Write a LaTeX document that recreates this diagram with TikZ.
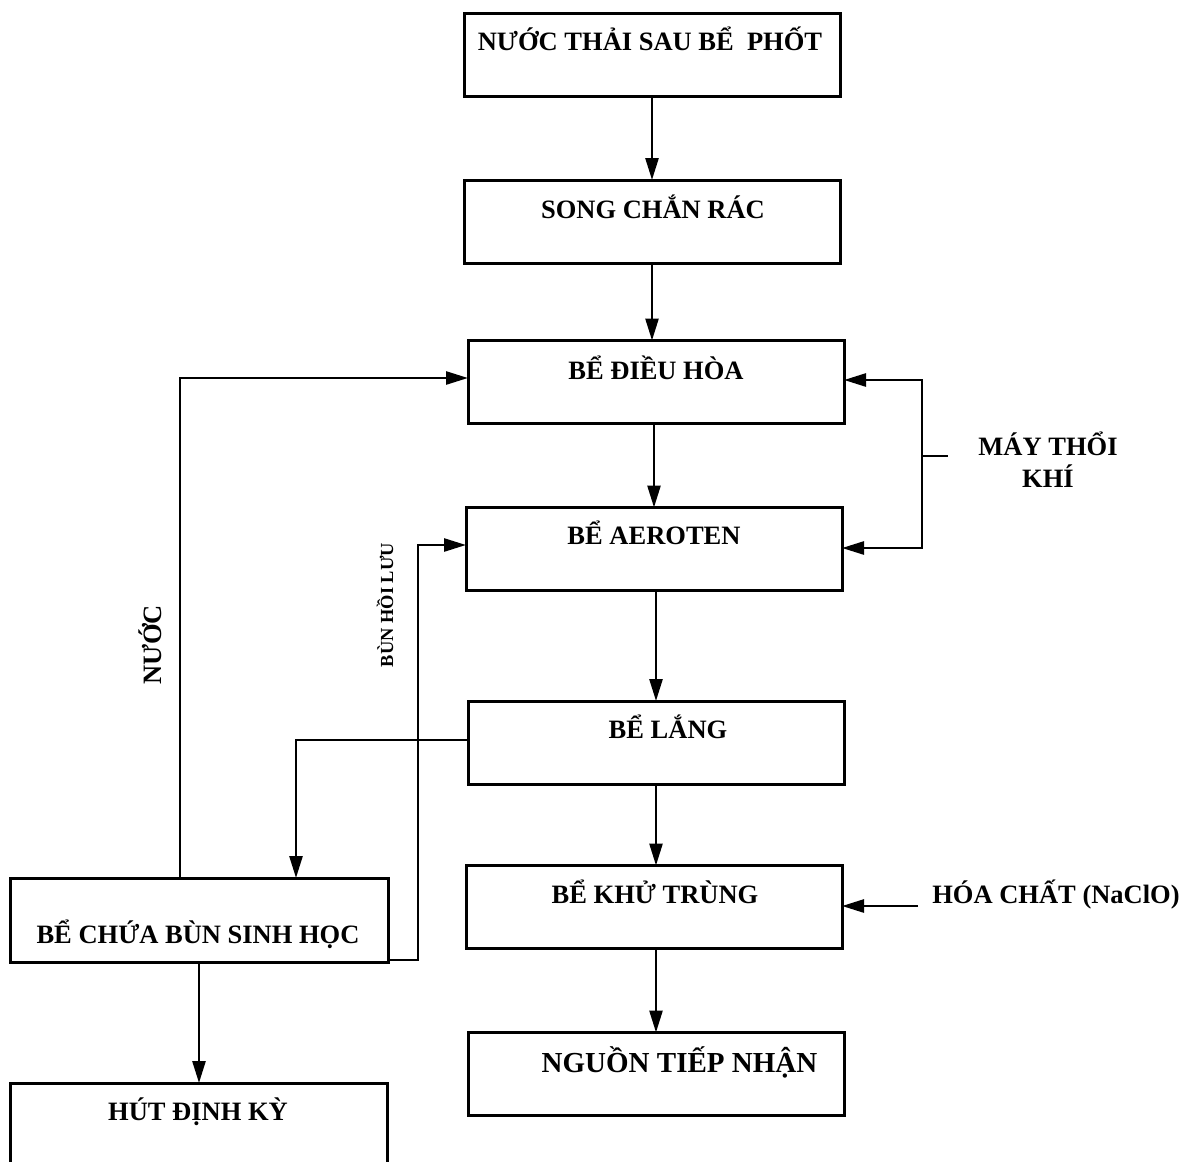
\documentclass[tikz,border=0pt]{standalone}
\usepackage{fontspec}
\setmainfont{Liberation Serif}
\usetikzlibrary{arrows.meta}
\begin{document}
\begin{tikzpicture}[x=1pt,y=-1pt,
  box/.style={draw,line width=3pt,minimum width=376pt,minimum height=83pt,inner sep=0pt,outer sep=0pt},
  txt/.style={font=\fontsize{26.5}{30}\selectfont\bfseries,anchor=base,inner sep=0pt},
  bigtxt/.style={font=\fontsize{29}{33}\selectfont\bfseries,anchor=base,inner sep=0pt},
  smalltxt/.style={font=\fontsize{18.4}{22}\selectfont\bfseries,anchor=base,inner sep=0pt},
  ln/.style={line width=2.6pt},
  arr/.style={line width=2.6pt,-{Triangle[length=22pt,width=13pt]}}]
\clip (0,0) rectangle (1189,1162);
\fill[white] (0,0) rectangle (1189,1162);
% boxes
\node[box] (b1) at (652,54.5) {};
\node[box] (b2) at (652,221.5) {};
\node[box] (b3) at (656,382) {};
\node[box] (b4) at (654,549) {};
\node[box] (b5) at (656,742.5) {};
\node[box] (b6) at (654,907) {};
\node[box] (b7) at (656,1074) {};
\node[box,minimum width=378pt,minimum height=84pt] (b8) at (199,920) {};
\node[box,minimum width=377pt,minimum height=160pt] (b9) at (198.5,1163) {};
% texts
\node[txt] (t1) at (650,50) {NƯỚC THẢI SAU BỂ \ PHỐT};
\node[txt] (t2) at (653,218) {SONG CHẮN RÁC};
\node[txt] (t3) at (656,379) {BỂ ĐIỀU HÒA};
\node[txt] (t4) at (654,544) {BỂ AEROTEN};
\node[txt] (t5) at (668,738) {BỂ LẮNG};
\node[txt] (t6) at (655,903) {BỂ KHỬ TRÙNG};
\node[bigtxt] (t7) at (679.5,1072) {NGUỒN TIẾP NHẬN};
\node[txt] (t8) at (198,943) {BỂ CHỨA BÙN SINH HỌC};
\node[txt] (t9) at (198,1120) {HÚT ĐỊNH KỲ};
\node[txt] (mt1) at (1048,455) {MÁY THỔI};
\node[txt] (mt2) at (1048,487) {KHÍ};
\node[txt] (hc) at (1056,903) {HÓA CHẤT (NaClO)};
\node[txt,anchor=center,rotate=90] (nuoc) at (150,645) {NƯỚC};
\node[smalltxt,anchor=center,rotate=90] (bhl) at (385,605) {BÙN HỒI LƯU};
% main chain
\draw[arr] (b1.south) -- (b2.north);
\draw[arr] (b2.south) -- (b2.south |- b3.north);
\draw[arr] (b4.north |- b3.south) -- (b4.north);
\draw[arr] (b5.north |- b4.south) -- (b5.north);
\draw[arr] (b5.south) -- (b5.south |- b6.north);
\draw[arr] (b7.north |- b6.south) -- (b7.north);
% sludge from settling tank
\draw[arr] ([yshift=2.5pt]b5.west) -| ([xshift=97pt]b8.north);
% water back to equalization
\draw[arr] ([xshift=-19pt]b8.north) |- ([yshift=4pt]b3.west);
% return sludge
\draw[arr] ([yshift=2pt]b8.south east) -- ++(30,0) |- ([yshift=4pt]b4.west);
% to periodic pumping
\draw[arr] (b8.south) -- (b8.south |- b9.north);
% blower
\coordinate (mt) at (922,456);
\draw[ln] (mt) -- ++(26,0);
\draw[arr] (mt) |- ([yshift=2pt]b3.east);
\draw[arr] (mt) |- ([yshift=1pt]b4.east);
% chemical
\coordinate (hcs) at (918,906);
\draw[arr] (hcs) -- (b6.east |- hcs);
\end{tikzpicture}
\end{document}
